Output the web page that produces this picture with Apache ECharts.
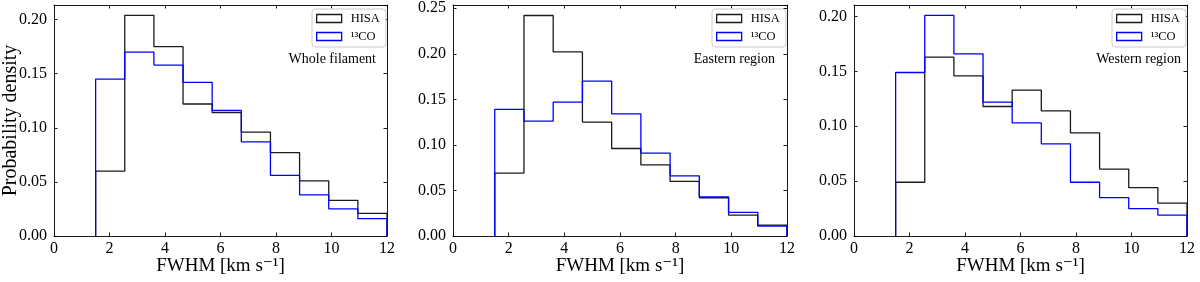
<!DOCTYPE html>
<html><head><meta charset="utf-8">
<script src="https://cdn.jsdelivr.net/npm/echarts@6/dist/echarts.min.js"></script>
<style>html,body{margin:0;padding:0;background:#fff}#c{width:1200px;height:282px}</style>
</head><body><div id="c"></div>
<script>
// Histogram bin edges (km/s)
const binEdges = [1.5, 2.55, 3.6, 4.65, 5.7, 6.75, 7.8, 8.85, 9.9, 10.95, 12.0];
const xTickValues = [0, 2, 4, 6, 8, 10, 12];
const seriesNames = ['HISA', '\u00B9\u00B3CO'];
const panelLabels = ['Whole filament', 'Eastern region', 'Western region'];
const yMaxes = [0.2135, 0.2535, 0.2105];

// Probability densities per bin
const hisaWhole   = [0.060, 0.204, 0.175, 0.122, 0.114, 0.096, 0.077, 0.051, 0.033, 0.021];
const coWhole     = [0.145, 0.170, 0.158, 0.142, 0.116, 0.087, 0.056, 0.038, 0.025, 0.016];
const hisaEastern = [0.069, 0.242, 0.202, 0.125, 0.096, 0.078, 0.060, 0.042, 0.023, 0.012];
const coEastern   = [0.139, 0.126, 0.147, 0.170, 0.134, 0.091, 0.066, 0.043, 0.026, 0.011];
const hisaWestern = [0.049, 0.163, 0.146, 0.118, 0.133, 0.114, 0.094, 0.061, 0.044, 0.030];
const coWestern   = [0.149, 0.201, 0.166, 0.122, 0.103, 0.084, 0.049, 0.035, 0.025, 0.019];

const panels = [[hisaWhole, coWhole], [hisaEastern, coEastern], [hisaWestern, coWestern]];
const colors = ['#1a1a1a', '#0000ff'];
const FONT = '"Liberation Serif", "DejaVu Serif", serif';

function stepPoints(vals) {
  const pts = [[binEdges[0], 0]];
  vals.forEach((v, i) => { pts.push([binEdges[i], v]); pts.push([binEdges[i + 1], v]); });
  pts.push([binEdges[binEdges.length - 1], 0]);
  return pts;
}

const gridLeft = [54, 453, 854];
const gridWidth = [333, 334, 333];
const legendLeft = [312, 712, 1112];
const labelRight = [824, 425, 19];

const grid = [], xAxis = [], yAxis = [], series = [], legend = [], title = [];
const axisLine = { show: true, onZero: false, lineStyle: { color: '#000', width: 0.9 } };
const axisTick = { show: true, inside: true, length: 3.5, lineStyle: { color: '#000', width: 0.9 } };

panels.forEach((pair, p) => {
  grid.push({ left: gridLeft[p], top: 5, width: gridWidth[p], height: 231,
    containLabel: false, outerBoundsMode: 'none' });
  // bottom and top x axes
  xAxis.push({
    gridIndex: p, type: 'value', position: 'bottom', min: 0, max: 12, interval: 2,
    axisLine, axisTick, splitLine: { show: false },
    axisLabel: { color: '#000', fontFamily: FONT, fontSize: 16, margin: 5,
      formatter: v => xTickValues.includes(v) ? String(v) : '' },
    name: 'FWHM [km s\u207B\u00B9]', nameLocation: 'middle', nameGap: 21, nameMoveOverlap: false,
    nameTextStyle: { color: '#000', fontFamily: FONT, fontSize: 19 }
  });
  xAxis.push({
    gridIndex: p, type: 'value', position: 'top', min: 0, max: 12, interval: 2,
    axisLine, axisTick, splitLine: { show: false }, axisLabel: { show: false }
  });
  yAxis.push({
    gridIndex: p, type: 'value', position: 'left', min: 0, max: yMaxes[p], interval: 0.05,
    axisLine, axisTick, splitLine: { show: false },
    axisLabel: { color: '#000', fontFamily: FONT, fontSize: 16, margin: 7, showMaxLabel: false,
      formatter: v => v.toFixed(2) },
    name: p === 0 ? 'Probability density' : '', nameLocation: 'middle', nameGap: 33,
    nameMoveOverlap: false,
    nameTextStyle: { color: '#000', fontFamily: FONT, fontSize: 20 }
  });
  yAxis.push({
    gridIndex: p, type: 'value', position: 'right', min: 0, max: yMaxes[p], interval: 0.05,
    axisLine, axisTick, splitLine: { show: false }, axisLabel: { show: false }
  });
  pair.forEach((vals, s) => {
    series.push({
      name: seriesNames[s], type: 'line', xAxisIndex: 2 * p, yAxisIndex: 2 * p,
      data: stepPoints(vals), symbol: 'none', showSymbol: false, silent: true,
      lineStyle: { color: colors[s], width: 1.3 }, itemStyle: { color: colors[s] },
      z: 2 + s, animation: false
    });
  });
  legend.push({
    left: legendLeft[p], top: 9, orient: 'vertical', selectedMode: false,
    padding: [3, 6, 4, 4], itemGap: 5, itemWidth: 25, itemHeight: 8,
    borderColor: '#cccccc', borderWidth: 1, borderRadius: 3, backgroundColor: '#fff',
    textStyle: { color: '#000', fontFamily: FONT, fontSize: 12.5, padding: [0, 0, 0, 4] },
    data: seriesNames.map((n, s) => ({
      name: n, icon: 'rect',
      itemStyle: { color: 'rgba(255,255,255,0)', borderColor: colors[s], borderWidth: 1.3 }
    }))
  });
  title.push({
    text: panelLabels[p], right: labelRight[p], top: 52, padding: 0,
    textStyle: { color: '#000', fontFamily: FONT, fontSize: 14, fontWeight: 'normal' }
  });
});

const chart = echarts.init(document.getElementById('c'), null, { renderer: 'canvas' });
chart.setOption({ animation: false, backgroundColor: '#fff', grid, xAxis, yAxis, series, legend, title });
</script>
</body></html>
